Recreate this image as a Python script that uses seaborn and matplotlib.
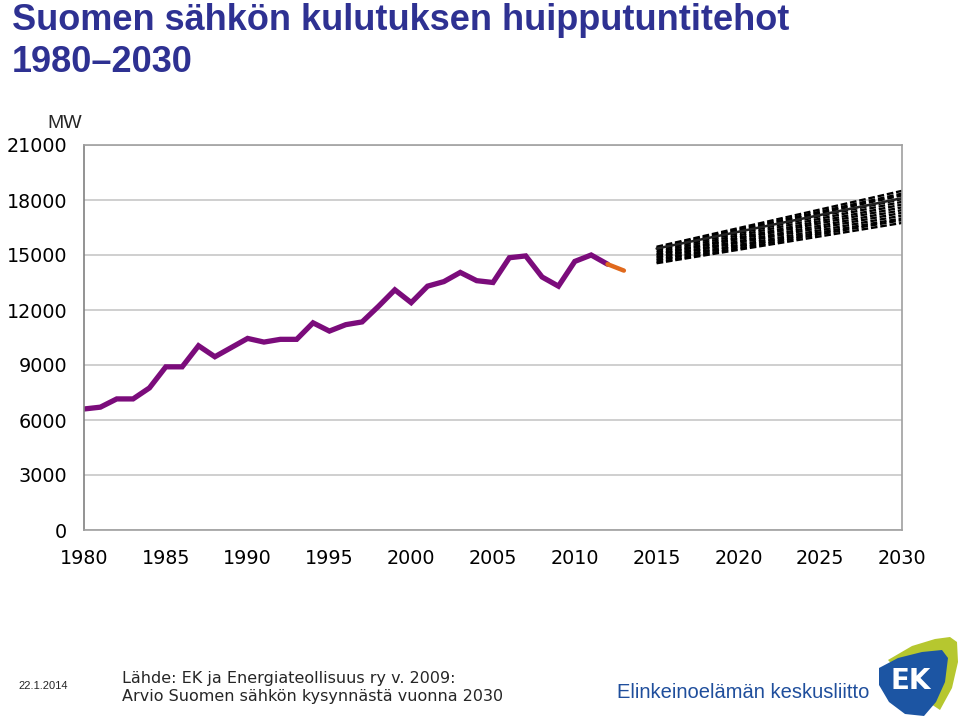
import numpy as np
import pandas as pd
import matplotlib.pyplot as plt
import seaborn as sns
from matplotlib.patches import Polygon

# historical peak hour demand, MW
years = list(range(1980, 2013))
peak_mw = [6600, 6700, 7150, 7150, 7750, 8900, 8900, 10050, 9450, 9950,
           10450, 10250, 10400, 10400, 11300, 10850, 11200, 11350, 12200, 13100,
           12400, 13300, 13550, 14050, 13600, 13500, 14850, 14950, 13800, 13300,
           14650, 15000, 14500]
recent_years = [2012, 2013]
recent_mw = [14500, 14150]

# forecast scenarios 2015 -> 2030
fc_years = [2015, 2030]
fc_start = [15450, 15400, 15350, 15250, 15150, 15050, 15000, 14900, 14850, 14750, 14700, 14600, 14550]
fc_end = [18500, 18350, 18250, 18050, 17900, 17750, 17600, 17450, 17300, 17150, 17000, 16900, 16750]
fc_solid = [15350, 18100]

sns.set_theme(style='white')
plt.rcParams['font.family'] = ['DejaVu Sans']

fig = plt.figure(figsize=(9.6, 7.19), dpi=100)
ax = fig.add_axes([84/960, 1-530/719, (902-84)/960, 385/719])

hist = pd.DataFrame({'year': years, 'mw': peak_mw})
sns.lineplot(data=hist, x='year', y='mw', ax=ax, color='#7b0c7b', lw=3.8,
             solid_capstyle='round', solid_joinstyle='miter')
sns.lineplot(x=recent_years, y=recent_mw, ax=ax, color='#e0691c', lw=3.2,
             solid_capstyle='round')

for s, e in zip(fc_start, fc_end):
    sns.lineplot(x=fc_years, y=[s, e], ax=ax, color='black', lw=1.7,
                 linestyle=(0, (2.8, 1.2)))
sns.lineplot(x=fc_years, y=fc_solid, ax=ax, color='#222222', lw=1.8)

ax.set_xlim(1980, 2030)
ax.set_ylim(0, 21000)
ax.set_xticks(range(1980, 2031, 5))
ax.set_yticks(range(0, 21001, 3000))
ax.yaxis.grid(True, color='#cccccc', lw=1.3)
ax.set_axisbelow(True)
for sp in ax.spines.values():
    sp.set_color('#a0a0a0')
    sp.set_linewidth(1.2)
ax.spines['left'].set_color('#808080')
ax.tick_params(axis='both', direction='out', length=5, width=1, color='#808080',
               labelsize=13.8, labelcolor='black')
ax.tick_params(axis='x', pad=9)
ax.tick_params(axis='y', pad=7)
ax.set_xlabel('')
ax.set_ylabel('')

fig.text(82/960, 1-123/719, 'MW', ha='right', va='center', fontsize=14,
         family='Liberation Sans')

title_font = ['Liberation Sans Narrow', 'Liberation Sans']
fig.text(12/960, 1-20/719, 'Suomen sähkön kulutuksen huipputuntitehot', ha='left',
         va='center', fontsize=26, fontweight='bold', color='#2e3192', family=title_font)
fig.text(12/960, 1-62/719, '1980–2030', ha='left', va='center', fontsize=26,
         fontweight='bold', color='#2e3192', family=title_font)

fig.text(18/960, 1-686/719, '22.1.2014', ha='left', va='center', fontsize=8,
         family=title_font)
fig.text(122/960, 1-678/719, 'Lähde: EK ja Energiateollisuus ry v. 2009:', ha='left',
         va='center', fontsize=11.5)
fig.text(122/960, 1-697/719, 'Arvio Suomen sähkön kysynnästä vuonna 2030', ha='left',
         va='center', fontsize=11.5)
fig.text(617/960, 1-693/719, 'Elinkeinoelämän keskusliitto', ha='left', va='center',
         fontsize=14.5, color='#1f4e9c', family=title_font)

# logo
lax = fig.add_axes([870/960, 0, 90/960, 90/719])
lax.set_xlim(870, 960)
lax.set_ylim(719, 629)
lax.axis('off')
lax.add_patch(Polygon([[888, 660], [912, 646], [935, 639], [950, 637], [957, 642],
                       [958, 662], [952, 688], [940, 710], [925, 700]], closed=True,
                      color='#b6c72f', lw=0))
lax.add_patch(Polygon([[879, 668], [898, 658], [922, 652], [942, 650], [948, 658],
                       [945, 682], [936, 702], [924, 716], [905, 714], [889, 702],
                       [879, 685]], closed=True, color='#1c55a3', lw=0))
lax.text(911, 681, 'EK', ha='center', va='center', fontsize=20, fontweight='bold',
         color='white')

fig.savefig('out.png', dpi=100)
